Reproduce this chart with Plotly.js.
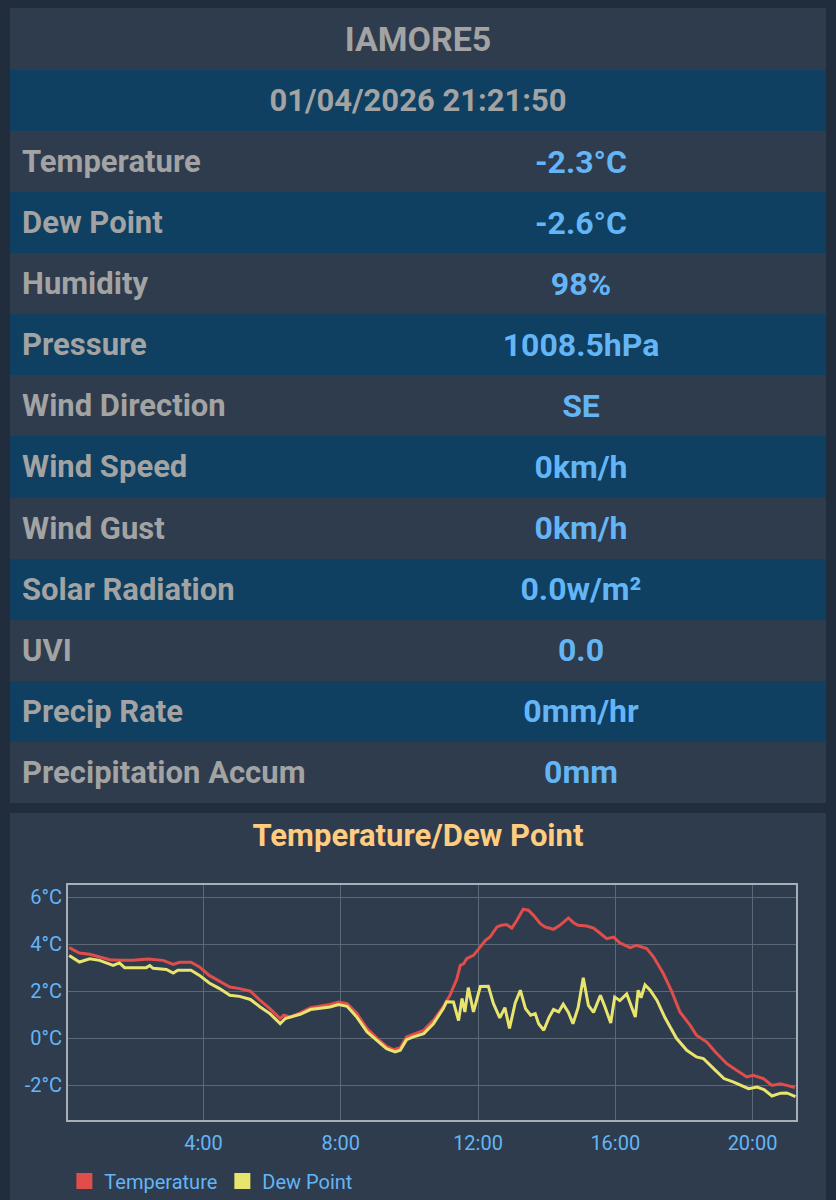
<!DOCTYPE html>
<html>
<head>
<meta charset="utf-8">
<script src="https://cdn.plot.ly/plotly-3.0.1.min.js"></script>
<style>
  html, body { margin:0; padding:0; background:#212d3c; width:836px; height:1200px; overflow:hidden; font-family: Roboto, "Noto Sans", sans-serif; }
  #panel { position:absolute; left:10px; top:8px; width:816px; height:795px; background:#2e3c4e; }
  .row { position:absolute; left:0; width:816px; display:flex; align-items:center; font-weight:700; font-size:31px; white-space:nowrap; }
  .light { background:#2e3c4e; }
  .dark { background:#0f3f61; }
  .head { justify-content:center; color:#a3a3a3; }
  .title { font-size:34px; }
  .lab { width:326px; padding-left:12px; box-sizing:border-box; color:#a3a3a3; }
  .val { width:490px; text-align:center; color:#64b5f6; font-size:32px; }
  #chartPanel { position:absolute; left:10px; top:813px; width:816px; height:387px; background:#2e3c4e; }
</style>
</head>
<body>
<div id="panel"></div>
<div id="chartPanel"><div id="chart" style="width:816px;height:387px;"></div></div>
<script>
// ---- table data ----
const stationName = 'IAMORE5';
const stationTime = '01/04/2026 21:21:50';
const rowLabels = ['Temperature','Dew Point','Humidity','Pressure','Wind Direction','Wind Speed','Wind Gust','Solar Radiation','UVI','Precip Rate','Precipitation Accum'];
const rowValues = ['-2.3°C','-2.6°C','98%','1008.5hPa','SE','0km/h','0km/h','0.0w/m²','0.0','0mm/hr','0mm'];

// ---- chart data ----
const chartTitle = 'Temperature/Dew Point';
const chartDate = '2026-01-04';
const tempTimes = ['00:05','00:23','00:41','00:58','01:16','01:33','01:56','02:23','02:49','03:07','03:18','03:38','03:53','04:10','04:28','04:46','05:03','05:22','05:39','05:56','06:14','06:20','06:32','06:49','07:07','07:24','07:41','07:56','08:11','08:28','08:46','09:04','09:20','09:32','09:44','09:55','10:07','10:25','10:42','10:59','11:11','11:23','11:29','11:35','11:40','11:52','12:04','12:13','12:21','12:33','12:41','12:50','12:59','13:08','13:19','13:28','13:37','13:49','13:57','14:12','14:23','14:38','14:47','14:55','15:10','15:22','15:34','15:45','15:57','16:08','16:26','16:37','16:55','17:07','17:24','17:39','17:53','18:11','18:22','18:40','18:55','19:15','19:32','19:50','20:01','20:19','20:34','20:48','21:00','21:14'];
const tempValues = [3.85,3.62,3.57,3.45,3.34,3.31,3.31,3.37,3.31,3.14,3.23,3.23,3.03,2.67,2.43,2.18,2.11,2.0,1.61,1.26,0.84,0.98,0.91,1.08,1.30,1.36,1.44,1.54,1.47,1.05,0.41,-0.01,-0.34,-0.48,-0.40,0.06,0.17,0.34,0.76,1.33,1.83,2.53,3.10,3.17,3.38,3.52,3.88,4.16,4.30,4.73,4.80,4.83,4.68,5.01,5.48,5.44,5.22,4.87,4.73,4.63,4.80,5.11,4.91,4.80,4.77,4.68,4.45,4.23,4.30,4.05,3.85,3.95,3.81,3.45,2.75,1.97,1.12,0.55,0.13,-0.16,-0.58,-1.08,-1.36,-1.64,-1.57,-1.71,-2.0,-1.93,-2.0,-2.09];
const dewTimes = ['00:05','00:23','00:41','00:58','01:22','01:33','01:42','02:20','02:26','02:32','02:55','03:07','03:15','03:38','03:53','04:10','04:28','04:46','05:03','05:22','05:39','05:56','06:14','06:23','06:49','07:07','07:41','07:56','08:11','08:28','08:46','09:04','09:20','09:35','09:44','09:55','10:07','10:25','10:42','10:59','11:05','11:17','11:26','11:32','11:37','11:43','11:52','12:04','12:18','12:27','12:38','12:47','12:55','13:05','13:14','13:23','13:32','13:40','13:46','13:55','14:04','14:12','14:21','14:29','14:38','14:46','14:55','15:04','15:13','15:22','15:34','15:42','15:52','15:59','16:08','16:20','16:26','16:35','16:40','16:45','16:52','17:01','17:13','17:27','17:47','18:05','18:22','18:34','18:52','19:10','19:27','19:53','20:08','20:20','20:34','20:49','21:00','21:15'];
const dewValues = [3.52,3.24,3.38,3.31,3.10,3.20,3.0,3.0,3.09,2.97,2.92,2.77,2.89,2.89,2.67,2.35,2.11,1.83,1.78,1.65,1.33,1.05,0.62,0.84,1.02,1.22,1.33,1.43,1.36,0.9,0.27,-0.11,-0.44,-0.58,-0.51,-0.06,0.06,0.20,0.62,1.25,1.55,1.54,0.75,1.69,1.12,2.15,1.12,2.2,2.21,1.47,0.87,1.3,0.42,1.5,2.04,1.26,0.98,1.05,0.62,0.34,0.88,1.22,1.12,1.45,1.1,0.62,1.3,2.57,1.4,1.1,1.83,1.33,0.65,1.75,1.6,1.88,1.5,0.9,2.04,1.72,2.27,2.04,1.61,0.87,0.0,-0.51,-0.79,-0.86,-1.29,-1.71,-1.86,-2.14,-2.07,-2.18,-2.45,-2.33,-2.32,-2.48];
const yTicks = [-2,0,2,4,6];
const seriesNames = ['Temperature','Dew Point'];
const seriesColors = ['#e04d4a','#e8e46e'];

// ---- build table ----
const panel = document.getElementById('panel');
function addRow(top, h, cls, html) {
  const d = document.createElement('div');
  d.className = 'row ' + cls;
  d.style.top = top + 'px';
  d.style.height = h + 'px';
  d.innerHTML = html;
  panel.appendChild(d);
}
addRow(0, 62, 'light head title', stationName);
addRow(62, 61, 'dark head', stationTime);
const rh = 672 / 11;
rowLabels.forEach((lab, i) => {
  addRow(123 + i * rh, rh, i % 2 === 0 ? 'light' : 'dark',
    '<div class="lab">' + lab + '</div><div class="val">' + rowValues[i] + '</div>');
});

// ---- chart ----
const toDate = t => chartDate + ' ' + t;
const traces = [
  { x: tempTimes.map(toDate), y: tempValues, mode: 'lines', name: seriesNames[0],
    line: { color: seriesColors[0], width: 3 }, showlegend: false },
  { x: dewTimes.map(toDate), y: dewValues, mode: 'lines', name: seriesNames[1],
    line: { color: seriesColors[1], width: 3 }, showlegend: false },
  { x: [null], y: [null], mode: 'markers', name: seriesNames[0],
    marker: { symbol: 'square', size: 16, color: seriesColors[0] } },
  { x: [null], y: [null], mode: 'markers', name: seriesNames[1],
    marker: { symbol: 'square', size: 16, color: seriesColors[1] } }
];
const layout = {
  width: 816, height: 387,
  paper_bgcolor: '#2e3c4e', plot_bgcolor: '#2e3c4e',
  margin: { l: 58, r: 30, t: 72, b: 80, autoexpand: false },
  font: { family: 'Roboto, sans-serif', color: '#64b5f6' },
  title: { text: chartTitle, font: { size: 31, color: '#ffcc80', family: 'Roboto, sans-serif', weight: 700 },
           x: 0.5, xanchor: 'center', y: 1 - 22 / 387, yanchor: 'middle', yref: 'container' },
  xaxis: {
    type: 'date',
    range: [chartDate + ' 00:03', chartDate + ' 21:16'],
    tick0: chartDate + ' 00:00', dtick: 4 * 3600 * 1000,
    tickformat: '%-H:%M',
    tickfont: { size: 20, color: '#64b5f6' },
    gridcolor: '#5c6876', gridwidth: 1,
    showline: true, mirror: true, linecolor: '#a7aeb6', linewidth: 2,
    zeroline: false, ticks: '', ticklabelstandoff: 4
  },
  yaxis: {
    range: [-3.47, 6.51],
    tickvals: yTicks, ticktext: yTicks.map(v => v + '°C'),
    tickfont: { size: 20, color: '#64b5f6' },
    gridcolor: '#5c6876', gridwidth: 1,
    showline: true, mirror: true, linecolor: '#a7aeb6', linewidth: 2,
    zeroline: false, ticks: ''
  },
  legend: { orientation: 'h', x: -0.005, xanchor: 'left', xref: 'paper',
            y: 19 / 387, yanchor: 'middle', yref: 'container',
            font: { size: 20, color: '#64b5f6' }, bgcolor: 'rgba(0,0,0,0)' },
  showlegend: true
};
Plotly.newPlot('chart', traces, layout, { displayModeBar: false, staticPlot: true });
</script>
</body>
</html>
